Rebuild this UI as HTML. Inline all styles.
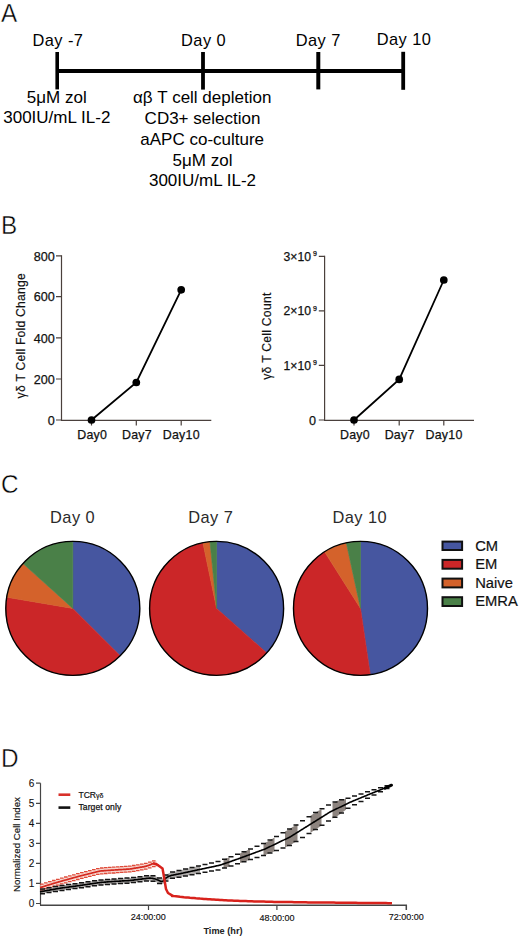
<!DOCTYPE html>
<html><head><meta charset="utf-8"><style>
html,body{margin:0;padding:0;background:#fff;width:520px;height:940px;overflow:hidden}
svg{display:block;font-family:"Liberation Sans",sans-serif}
</style></head><body>
<svg width="520" height="940" viewBox="0 0 520 940">
<rect width="520" height="940" fill="#fff"/>
<!-- Panel A -->
<g fill="#000">
<text transform="translate(0.9 21.9) scale(0.91 1)" font-size="26.7" stroke="#fff" stroke-width="0.45">A</text>
<g font-size="16.4" text-anchor="middle" letter-spacing="0.45">
<text x="57.9" y="46.2">Day -7</text>
<text x="203.6" y="46.4">Day 0</text>
<text x="318.2" y="46.3">Day 7</text>
<text x="404" y="45.4">Day 10</text>
</g>
<rect x="57" y="69" width="346" height="4"/>
<rect x="55.4" y="52" width="3.6" height="37.4"/>
<rect x="201.1" y="52" width="3.8" height="37.6"/>
<rect x="316.3" y="52" width="4" height="37.4"/>
<rect x="401.3" y="51.8" width="3.8" height="38"/>
<g font-size="17" text-anchor="middle">
<text x="56.8" y="103.3">5μM zol</text>
<text x="56.8" y="123.2">300IU/mL IL-2</text>
<text x="202.2" y="103">αβ T cell depletion</text>
<text x="202.5" y="123.9">CD3+ selection</text>
<text x="202.2" y="144.5">aAPC co-culture</text>
<text x="202.5" y="165.5">5μM zol</text>
<text x="202.5" y="186.2">300IU/mL IL-2</text>
</g>
</g>

<!-- Panel B -->
<text transform="translate(0.9 233.9) scale(0.91 1)" font-size="26.7" stroke="#fff" stroke-width="0.45">B</text>
<g stroke="#4a403c" stroke-width="1.2" fill="none">
<path d="M61.5 255.2V420.4H211.3"/>
<path d="M56 255.8H61.5M56 296.6H61.5M56 337.8H61.5M56 379H61.5M56 420H61.5"/>
<path d="M91.5 420.4V425.5M136.3 420.4V425.5M181.2 420.4V425.5"/>
<path d="M324.6 255.7V420.4H474"/>
<path d="M318.8 256.3H324.6M318.8 310.9H324.6M318.8 365.3H324.6M318.8 420H324.6"/>
<path d="M354 420.4V425.5M399.2 420.4V425.5M443.8 420.4V425.5"/>
</g>
<g font-size="12.6" text-anchor="end" fill="#111" stroke="#111" stroke-width="0.25">
<text x="54.8" y="260.5">800</text>
<text x="54.8" y="301.3">600</text>
<text x="54.8" y="342.5">400</text>
<text x="54.8" y="383.7">200</text>
<text x="54.8" y="424.7">0</text>
<text x="316" y="424.7">0</text>
</g>
<g font-size="12.2" fill="#111" stroke="#111" stroke-width="0.25">
<text x="283.6" y="260.8">3×10</text>
<text x="283.6" y="315.4">2×10</text>
<text x="283.6" y="369.8">1×10</text>
<text x="312.9" y="256.3" font-size="7">9</text>
<text x="312.9" y="310.9" font-size="7">9</text>
<text x="312.9" y="365.3" font-size="7">9</text>
</g>
<g font-size="12.4" text-anchor="middle" fill="#111" stroke="#111" stroke-width="0.25" letter-spacing="0.25">
<text x="92.2" y="438.8">Day0</text>
<text x="137" y="438.8">Day7</text>
<text x="181.3" y="438.8">Day10</text>
<text x="355" y="438.8">Day0</text>
<text x="399.6" y="438.8">Day7</text>
<text x="444" y="438.8">Day10</text>
</g>
<g font-size="12.2" text-anchor="middle" fill="#111" stroke="#111" stroke-width="0.2">
<text transform="translate(24.5 335.75) rotate(-90)" letter-spacing="0.2">γδ T Cell Fold Change</text>
<text transform="translate(271.3 336.15) rotate(-90)" letter-spacing="0.24">γδ T Cell Count</text>
</g>
<g stroke="#000" stroke-width="1.8" fill="none">
<path d="M91.5 420L136.3 382.5L181.2 289.8"/>
<path d="M354 420L399.2 379.4L443.8 280"/>
</g>
<g fill="#000">
<circle cx="91.5" cy="420" r="3.85"/><circle cx="136.3" cy="382.5" r="3.85"/><circle cx="181.2" cy="289.8" r="3.85"/>
<circle cx="354" cy="420" r="3.85"/><circle cx="399.2" cy="379.4" r="3.85"/><circle cx="443.8" cy="280" r="3.85"/>
</g>

<!-- Panel C -->
<text transform="translate(0.9 493.3) scale(0.91 1)" font-size="26.7" stroke="#fff" stroke-width="0.45">C</text>
<g font-size="16.4" text-anchor="middle" fill="#2a2a2a" letter-spacing="0.45">
<text x="72.6" y="522.6">Day 0</text>
<text x="210.8" y="522.8">Day 7</text>
<text x="359.7" y="522.8">Day 10</text>
</g>
<g id="pies" stroke="none"><path d="M72.80 608.40L72.80 541.40A67 67 0 0 1 120.18 655.78Z" fill="#4656a0" stroke="#4656a0" stroke-width="0.6" stroke-linejoin="round"/><path d="M72.80 608.40L120.18 655.78A67 67 0 0 1 6.74 597.23Z" fill="#cb2628" stroke="#cb2628" stroke-width="0.6" stroke-linejoin="round"/><path d="M72.80 608.40L6.74 597.23A67 67 0 0 1 23.01 563.57Z" fill="#d4622b" stroke="#d4622b" stroke-width="0.6" stroke-linejoin="round"/><path d="M72.80 608.40L23.01 563.57A67 67 0 0 1 72.80 541.40Z" fill="#4a8048" stroke="#4a8048" stroke-width="0.6" stroke-linejoin="round"/><path d="M216.60 608.40L216.60 541.40A67 67 0 0 1 266.70 652.88Z" fill="#4656a0" stroke="#4656a0" stroke-width="0.6" stroke-linejoin="round"/><path d="M216.60 608.40L266.70 652.88A67 67 0 1 1 202.90 542.82Z" fill="#cb2628" stroke="#cb2628" stroke-width="0.6" stroke-linejoin="round"/><path d="M216.60 608.40L202.90 542.82A67 67 0 0 1 209.95 541.73Z" fill="#d4622b" stroke="#d4622b" stroke-width="0.6" stroke-linejoin="round"/><path d="M216.60 608.40L209.95 541.73A67 67 0 0 1 216.60 541.40Z" fill="#4a8048" stroke="#4a8048" stroke-width="0.6" stroke-linejoin="round"/><path d="M360.50 608.40L360.50 541.40A67 67 0 0 1 370.29 674.68Z" fill="#4656a0" stroke="#4656a0" stroke-width="0.6" stroke-linejoin="round"/><path d="M360.50 608.40L370.29 674.68A67 67 0 0 1 324.60 551.83Z" fill="#cb2628" stroke="#cb2628" stroke-width="0.6" stroke-linejoin="round"/><path d="M360.50 608.40L324.60 551.83A67 67 0 0 1 346.34 542.91Z" fill="#d4622b" stroke="#d4622b" stroke-width="0.6" stroke-linejoin="round"/><path d="M360.50 608.40L346.34 542.91A67 67 0 0 1 360.50 541.40Z" fill="#4a8048" stroke="#4a8048" stroke-width="0.6" stroke-linejoin="round"/></g>
<g fill="none" stroke="#000" stroke-width="1.4">
<circle cx="72.8" cy="608.4" r="67"/>
<circle cx="216.6" cy="608.4" r="67"/>
<circle cx="360.5" cy="608.4" r="67"/>
</g>
<!-- legend -->
<g stroke="#111" stroke-width="2">
<rect x="442.5" y="541.6" width="19.6" height="8.4" fill="#4656a0"/>
<rect x="442.5" y="559.9" width="19.6" height="8.8" fill="#cb2628"/>
<rect x="442.5" y="578.6" width="19.6" height="8.8" fill="#d4622b"/>
<rect x="442.5" y="597.2" width="19.6" height="8.8" fill="#4a8048"/>
</g>
<g font-size="15.2" fill="#111" stroke="#111" stroke-width="0.2" transform="translate(475.2 0) scale(0.97 1)">
<text x="0" y="551">CM</text>
<text x="0" y="569.3">EM</text>
<text x="0" y="587.9">Naive</text>
<text x="0" y="606.4">EMRA</text>
</g>

<!-- Panel D -->
<text transform="translate(1 766.8) scale(0.91 1)" font-size="26.7" stroke="#fff" stroke-width="0.45">D</text>
<g stroke="#454545" stroke-width="1.2" fill="none">
<path d="M40.5 783.2V905.3"/>
<path d="M40 905.3H406.3V910" stroke-width="1.5"/>
<path d="M36 783.2H40.5M36 803.3H40.5M36 823.3H40.5M36 843.4H40.5M36 863.4H40.5M36 883.4H40.5M36 903.5H40.5"/>
<path d="M148.5 905.3V910M276.9 905.3V910"/>
</g>
<g font-size="10" text-anchor="end" fill="#111" stroke="#111" stroke-width="0.12">
<text x="34.3" y="786.7">6</text>
<text x="34.3" y="806.8">5</text>
<text x="34.3" y="826.8">4</text>
<text x="34.3" y="846.9">3</text>
<text x="34.3" y="866.9">2</text>
<text x="34.3" y="886.9">1</text>
<text x="34.3" y="907">0</text>
</g>
<g font-size="9" text-anchor="middle" fill="#111" stroke="#111" stroke-width="0.15">
<text x="148.3" y="920.4">24:00:00</text>
<text x="276.9" y="920.5">48:00:00</text>
<text x="406.3" y="920.4">72:00:00</text>
</g>
<text x="223" y="933.8" font-size="9.2" font-weight="bold" text-anchor="middle" fill="#222">Time (hr)</text>
<text transform="translate(20.2 844.5) rotate(-90)" font-size="9.7" text-anchor="middle" fill="#111" stroke="#111" stroke-width="0.15">Normalized Cell Index</text>
<path d="M58.5 794.7H70.3" stroke="#d8312a" stroke-width="2.6"/>
<path d="M58.5 807.6H70.3" stroke="#111" stroke-width="2.6"/>
<text x="78.4" y="797.6" font-size="8.6" fill="#111" stroke="#111" stroke-width="0.2">TCR<tspan font-size="7">γδ</tspan></text>
<text x="78.4" y="810.3" font-size="8.6" fill="#111" stroke="#111" stroke-width="0.25" letter-spacing="0.08">Target only</text>
<g id="dcurves"><path d="M40.0 884.9 L40.5 884.8 L41.0 884.7 L41.5 884.6 L42.0 884.5 L42.5 884.3 L43.0 884.1 L43.5 884.0 L44.0 883.8 L44.5 883.7 L45.0 883.5 L45.5 883.3 L46.0 883.2 L46.5 883.0 L47.0 882.9 L47.5 882.7 L48.0 882.5 L48.5 882.4 L49.0 882.2 L49.5 882.1 L50.0 881.9 L50.5 881.8 L51.0 881.6 L51.5 881.5 L52.0 881.3 L52.5 881.1 L53.0 881.0 L53.5 880.8 L54.0 880.7 L54.5 880.5 L55.0 880.4 L55.5 880.2 L56.0 880.1 L56.5 880.0 L57.0 879.8 L57.5 879.6 L58.0 879.5 L58.5 879.3 L59.0 879.2 L59.5 879.1 L60.0 878.9 L60.5 878.8 L61.0 878.6 L61.5 878.5 L62.0 878.4 L62.5 878.2 L63.0 878.1 L63.5 877.9 L64.0 877.8 L64.5 877.7 L65.0 877.5 L65.5 877.4 L66.0 877.2 L66.5 877.1 L67.0 877.0 L67.5 876.8 L68.0 876.7 L68.5 876.6 L69.0 876.4 L69.5 876.3 L70.0 876.1 L70.5 876.0 L71.0 875.9 L71.5 875.7 L72.0 875.6 L72.5 875.5 L73.0 875.3 L73.5 875.2 L74.0 875.0 L74.5 874.9 L75.0 874.8 L75.5 874.6 L76.0 874.5 L76.5 874.4 L77.0 874.2 L77.5 874.1 L78.0 873.9 L78.5 873.8 L79.0 873.7 L79.5 873.5 L80.0 873.4 L80.5 873.3 L81.0 873.2 L81.5 873.0 L82.0 872.9 L82.5 872.8 L83.0 872.6 L83.5 872.5 L84.0 872.4 L84.5 872.3 L85.0 872.1 L85.5 872.0 L86.0 871.9 L86.5 871.8 L87.0 871.6 L87.5 871.5 L88.0 871.4 L88.5 871.3 L89.0 871.1 L89.5 871.0 L90.0 870.9 L90.5 870.8 L91.0 870.6 L91.5 870.5 L92.0 870.4 L92.5 870.3 L93.0 870.1 L93.5 870.0 L94.0 869.9 L94.5 869.8 L95.0 869.6 L95.5 869.5 L96.0 869.4 L96.5 869.3 L97.0 869.1 L97.5 869.0 L98.0 868.9 L98.5 868.8 L99.0 868.7 L99.5 868.6 L100.0 868.5 L100.5 868.4 L101.0 868.3 L101.5 868.3 L102.0 868.3 L102.5 868.2 L103.0 868.2 L103.5 868.2 L104.0 868.1 L104.5 868.1 L105.0 868.0 L105.5 868.0 L106.0 868.0 L106.5 867.9 L107.0 867.9 L107.5 867.9 L108.0 867.8 L108.5 867.8 L109.0 867.8 L109.5 867.7 L110.0 867.7 L110.5 867.7 L111.0 867.6 L111.5 867.6 L112.0 867.6 L112.5 867.5 L113.0 867.5 L113.5 867.5 L114.0 867.4 L114.5 867.4 L115.0 867.4 L115.5 867.3 L116.0 867.3 L116.5 867.3 L117.0 867.2 L117.5 867.2 L118.0 867.2 L118.5 867.1 L119.0 867.1 L119.5 867.1 L120.0 867.0 L120.5 867.0 L121.0 867.0 L121.5 867.0 L122.0 866.9 L122.5 866.9 L123.0 866.9 L123.5 866.8 L124.0 866.8 L124.5 866.8 L125.0 866.7 L125.5 866.7 L126.0 866.7 L126.5 866.6 L127.0 866.6 L127.5 866.6 L128.0 866.5 L128.5 866.5 L129.0 866.5 L129.5 866.4 L130.0 866.4 L130.5 866.3 L131.0 866.2 L131.5 866.1 L132.0 866.1 L132.5 866.0 L133.0 865.9 L133.5 865.8 L134.0 865.7 L134.5 865.6 L135.0 865.6 L135.5 865.5 L136.0 865.4 L136.5 865.3 L137.0 865.2 L137.5 865.1 L138.0 865.1 L138.5 865.0 L139.0 864.9 L139.5 864.8 L140.0 864.7 L140.5 864.6 L141.0 864.6 L141.5 864.5 L142.0 864.4 L142.5 864.3 L143.0 864.2 L143.5 864.1 L144.0 864.1 L144.5 864.0 L145.0 863.8 L145.5 863.7 L146.0 863.6 L146.5 863.5 L147.0 863.3 L147.5 863.1 L148.0 863.0 L148.5 862.8 L149.0 862.7 L149.5 862.5 L150.0 862.3 L150.5 862.1 L151.0 861.8 L151.5 861.5 L152.0 861.3 L152.5 861.2 L153.0 861.1 L153.5 861.0 L154.0 861.1 L154.5 861.1 L155.0 861.3 L155.5 861.5 L156.0 861.5 L156.5 861.6 L157.0 861.7 L157.0 866.9 L156.5 866.8 L156.0 866.7 L155.5 866.7 L155.0 866.5 L154.5 866.4 L154.0 866.3 L153.5 866.2 L153.0 866.3 L152.5 866.4 L152.0 866.5 L151.5 866.8 L151.0 867.0 L150.5 867.3 L150.0 867.5 L149.5 867.7 L149.0 867.9 L148.5 868.0 L148.0 868.2 L147.5 868.4 L147.0 868.5 L146.5 868.7 L146.0 868.8 L145.5 868.9 L145.0 869.0 L144.5 869.2 L144.0 869.3 L143.5 869.4 L143.0 869.4 L142.5 869.5 L142.0 869.6 L141.5 869.7 L141.0 869.8 L140.5 869.9 L140.0 869.9 L139.5 870.0 L139.0 870.1 L138.5 870.2 L138.0 870.3 L137.5 870.4 L137.0 870.4 L136.5 870.5 L136.0 870.6 L135.5 870.7 L135.0 870.8 L134.5 870.9 L134.0 870.9 L133.5 871.0 L133.0 871.1 L132.5 871.2 L132.0 871.3 L131.5 871.4 L131.0 871.4 L130.5 871.5 L130.0 871.6 L129.5 871.6 L129.0 871.7 L128.5 871.7 L128.0 871.7 L127.5 871.8 L127.0 871.8 L126.5 871.8 L126.0 871.9 L125.5 871.9 L125.0 871.9 L124.5 872.0 L124.0 872.0 L123.5 872.0 L123.0 872.1 L122.5 872.1 L122.0 872.1 L121.5 872.2 L121.0 872.2 L120.5 872.2 L120.0 872.2 L119.5 872.3 L119.0 872.3 L118.5 872.3 L118.0 872.4 L117.5 872.4 L117.0 872.4 L116.5 872.5 L116.0 872.5 L115.5 872.5 L115.0 872.6 L114.5 872.6 L114.0 872.6 L113.5 872.7 L113.0 872.7 L112.5 872.7 L112.0 872.8 L111.5 872.8 L111.0 872.8 L110.5 872.9 L110.0 872.9 L109.5 872.9 L109.0 873.0 L108.5 873.0 L108.0 873.0 L107.5 873.1 L107.0 873.1 L106.5 873.1 L106.0 873.2 L105.5 873.2 L105.0 873.2 L104.5 873.3 L104.0 873.3 L103.5 873.4 L103.0 873.4 L102.5 873.4 L102.0 873.5 L101.5 873.5 L101.0 873.5 L100.5 873.6 L100.0 873.7 L99.5 873.8 L99.0 873.9 L98.5 874.0 L98.0 874.1 L97.5 874.2 L97.0 874.4 L96.5 874.5 L96.0 874.6 L95.5 874.7 L95.0 874.9 L94.5 875.0 L94.0 875.1 L93.5 875.2 L93.0 875.4 L92.5 875.5 L92.0 875.6 L91.5 875.7 L91.0 875.9 L90.5 876.0 L90.0 876.1 L89.5 876.2 L89.0 876.4 L88.5 876.5 L88.0 876.6 L87.5 876.7 L87.0 876.9 L86.5 877.0 L86.0 877.1 L85.5 877.2 L85.0 877.4 L84.5 877.5 L84.0 877.6 L83.5 877.7 L83.0 877.9 L82.5 878.0 L82.0 878.1 L81.5 878.2 L81.0 878.4 L80.5 878.5 L80.0 878.6 L79.5 878.7 L79.0 878.9 L78.5 879.0 L78.0 879.1 L77.5 879.3 L77.0 879.4 L76.5 879.6 L76.0 879.7 L75.5 879.8 L75.0 880.0 L74.5 880.1 L74.0 880.2 L73.5 880.4 L73.0 880.5 L72.5 880.7 L72.0 880.8 L71.5 880.9 L71.0 881.1 L70.5 881.2 L70.0 881.4 L69.5 881.5 L69.0 881.6 L68.5 881.8 L68.0 881.9 L67.5 882.0 L67.0 882.2 L66.5 882.3 L66.0 882.5 L65.5 882.6 L65.0 882.7 L64.5 882.9 L64.0 883.0 L63.5 883.1 L63.0 883.3 L62.5 883.4 L62.0 883.6 L61.5 883.7 L61.0 883.8 L60.5 884.0 L60.0 884.1 L59.5 884.3 L59.0 884.4 L58.5 884.5 L58.0 884.7 L57.5 884.9 L57.0 885.0 L56.5 885.2 L56.0 885.3 L55.5 885.5 L55.0 885.6 L54.5 885.8 L54.0 885.9 L53.5 886.0 L53.0 886.2 L52.5 886.4 L52.0 886.5 L51.5 886.7 L51.0 886.8 L50.5 887.0 L50.0 887.1 L49.5 887.3 L49.0 887.4 L48.5 887.6 L48.0 887.7 L47.5 887.9 L47.0 888.1 L46.5 888.2 L46.0 888.4 L45.5 888.5 L45.0 888.7 L44.5 888.9 L44.0 889.0 L43.5 889.2 L43.0 889.3 L42.5 889.5 L42.0 889.7 L41.5 889.8 L41.0 889.9 L40.5 890.0 L40.0 890.1Z" fill="#f3c4ba" opacity="0.7"/><path d="M40.0 884.2h3.6M40.0 890.0h3.6M44.0 882.9h3.6M44.0 888.7h3.6M48.0 881.7h3.6M48.0 887.5h3.6M52.0 880.5h3.6M52.0 886.3h3.6M56.0 879.3h3.6M56.0 885.1h3.6M60.0 878.1h3.6M60.0 883.9h3.6M64.0 877.0h3.6M64.0 882.8h3.6M68.0 875.9h3.6M68.0 881.7h3.6M72.0 874.8h3.6M72.0 880.6h3.6M76.0 873.7h3.6M76.0 879.5h3.6M80.0 872.6h3.6M80.0 878.4h3.6M84.0 871.6h3.6M84.0 877.4h3.6M88.0 870.6h3.6M88.0 876.4h3.6M92.0 869.6h3.6M92.0 875.4h3.6M96.0 868.6h3.6M96.0 874.4h3.6M100.0 868.0h3.6M100.0 873.8h3.6M104.0 867.7h3.6M104.0 873.5h3.6M108.0 867.4h3.6M108.0 873.2h3.6M112.0 867.2h3.6M112.0 873.0h3.6M116.0 866.9h3.6M116.0 872.7h3.6M120.0 866.6h3.6M120.0 872.4h3.6M124.0 866.4h3.6M124.0 872.2h3.6M128.0 866.1h3.6M128.0 871.9h3.6M132.0 865.5h3.6M132.0 871.3h3.6M136.0 864.8h3.6M136.0 870.6h3.6M140.0 864.1h3.6M140.0 869.9h3.6M144.0 863.3h3.6M144.0 869.1h3.6M148.0 862.1h3.6M148.0 867.9h3.6M152.0 860.8h3.6M152.0 866.6h3.6" stroke="#e04a38" stroke-width="1.3" fill="none"/><path d="M40.0 889.3 L40.5 889.2 L41.0 889.2 L41.5 889.1 L42.0 889.0 L42.5 888.9 L43.0 888.9 L43.5 888.8 L44.0 888.7 L44.5 888.6 L45.0 888.5 L45.5 888.4 L46.0 888.3 L46.5 888.2 L47.0 888.1 L47.5 888.0 L48.0 887.9 L48.5 887.9 L49.0 887.8 L49.5 887.7 L50.0 887.6 L50.5 887.5 L51.0 887.4 L51.5 887.3 L52.0 887.2 L52.5 887.1 L53.0 887.0 L53.5 886.9 L54.0 886.9 L54.5 886.8 L55.0 886.7 L55.5 886.6 L56.0 886.5 L56.5 886.4 L57.0 886.3 L57.5 886.2 L58.0 886.1 L58.5 886.0 L59.0 885.9 L59.5 885.9 L60.0 885.8 L60.5 885.7 L61.0 885.6 L61.5 885.6 L62.0 885.5 L62.5 885.4 L63.0 885.4 L63.5 885.3 L64.0 885.2 L64.5 885.1 L65.0 885.1 L65.5 885.0 L66.0 884.9 L66.5 884.9 L67.0 884.8 L67.5 884.7 L68.0 884.7 L68.5 884.6 L69.0 884.5 L69.5 884.5 L70.0 884.4 L70.5 884.3 L71.0 884.3 L71.5 884.2 L72.0 884.1 L72.5 884.1 L73.0 884.0 L73.5 883.9 L74.0 883.8 L74.5 883.8 L75.0 883.7 L75.5 883.6 L76.0 883.6 L76.5 883.5 L77.0 883.4 L77.5 883.4 L78.0 883.3 L78.5 883.2 L79.0 883.2 L79.5 883.1 L80.0 883.0 L80.5 882.9 L81.0 882.9 L81.5 882.8 L82.0 882.7 L82.5 882.6 L83.0 882.6 L83.5 882.5 L84.0 882.4 L84.5 882.3 L85.0 882.3 L85.5 882.2 L86.0 882.1 L86.5 882.0 L87.0 882.0 L87.5 881.9 L88.0 881.8 L88.5 881.7 L89.0 881.7 L89.5 881.6 L90.0 881.5 L90.5 881.4 L91.0 881.4 L91.5 881.3 L92.0 881.2 L92.5 881.1 L93.0 881.1 L93.5 881.0 L94.0 880.9 L94.5 880.8 L95.0 880.8 L95.5 880.7 L96.0 880.6 L96.5 880.5 L97.0 880.4 L97.5 880.4 L98.0 880.3 L98.5 880.2 L99.0 880.1 L99.5 880.1 L100.0 880.0 L100.5 880.0 L101.0 879.9 L101.5 879.9 L102.0 879.8 L102.5 879.8 L103.0 879.7 L103.5 879.7 L104.0 879.7 L104.5 879.6 L105.0 879.6 L105.5 879.5 L106.0 879.5 L106.5 879.5 L107.0 879.4 L107.5 879.4 L108.0 879.3 L108.5 879.3 L109.0 879.3 L109.5 879.2 L110.0 879.2 L110.5 879.1 L111.0 879.1 L111.5 879.1 L112.0 879.0 L112.5 879.0 L113.0 879.0 L113.5 879.0 L114.0 878.9 L114.5 878.9 L115.0 878.9 L115.5 878.8 L116.0 878.8 L116.5 878.8 L117.0 878.7 L117.5 878.7 L118.0 878.7 L118.5 878.6 L119.0 878.6 L119.5 878.6 L120.0 878.6 L120.5 878.5 L121.0 878.5 L121.5 878.5 L122.0 878.4 L122.5 878.4 L123.0 878.4 L123.5 878.3 L124.0 878.3 L124.5 878.3 L125.0 878.2 L125.5 878.2 L126.0 878.2 L126.5 878.2 L127.0 878.1 L127.5 878.1 L128.0 878.1 L128.5 878.0 L129.0 878.0 L129.5 878.0 L130.0 877.9 L130.5 877.9 L131.0 877.8 L131.5 877.7 L132.0 877.7 L132.5 877.6 L133.0 877.6 L133.5 877.5 L134.0 877.4 L134.5 877.4 L135.0 877.3 L135.5 877.2 L136.0 877.2 L136.5 877.1 L137.0 877.0 L137.5 877.0 L138.0 876.9 L138.5 876.9 L139.0 876.8 L139.5 876.7 L140.0 876.7 L140.5 876.6 L141.0 876.5 L141.5 876.5 L142.0 876.4 L142.5 876.4 L143.0 876.3 L143.5 876.2 L144.0 876.2 L144.5 876.1 L145.0 876.0 L145.5 876.0 L146.0 875.9 L146.5 875.8 L147.0 875.8 L147.5 875.7 L148.0 875.7 L148.5 875.6 L149.0 875.5 L149.5 875.5 L150.0 875.5 L150.5 875.5 L151.0 875.6 L151.5 875.6 L152.0 875.7 L152.5 875.7 L153.0 875.8 L153.5 875.9 L154.0 876.0 L154.5 876.1 L155.0 876.2 L155.5 876.3 L156.0 876.5 L156.5 876.7 L157.0 876.9 L157.5 877.1 L158.0 877.3 L158.5 877.5 L159.0 877.7 L159.5 877.9 L160.0 878.1 L160.5 878.3 L161.0 878.5 L161.5 878.6 L162.0 878.5 L162.5 878.3 L163.0 878.0 L163.5 877.5 L164.0 877.0 L164.5 876.4 L165.0 875.9 L165.5 875.4 L166.0 875.0 L166.5 874.7 L167.0 874.4 L167.5 874.1 L168.0 873.8 L168.5 873.5 L169.0 873.2 L169.5 873.0 L170.0 872.8 L170.5 872.6 L171.0 872.4 L171.5 872.3 L172.0 872.2 L172.5 872.1 L173.0 871.9 L173.5 871.8 L174.0 871.7 L174.5 871.6 L175.0 871.5 L175.5 871.4 L176.0 871.3 L176.5 871.2 L177.0 871.1 L177.5 870.9 L178.0 870.8 L178.5 870.7 L179.0 870.6 L179.5 870.5 L180.0 870.4 L180.5 870.3 L181.0 870.1 L181.5 870.0 L182.0 869.9 L182.5 869.8 L183.0 869.7 L183.5 869.5 L184.0 869.4 L184.5 869.3 L185.0 869.2 L185.5 869.1 L186.0 868.9 L186.5 868.8 L187.0 868.7 L187.5 868.6 L188.0 868.5 L188.5 868.3 L189.0 868.2 L189.5 868.1 L190.0 868.0 L190.5 867.9 L191.0 867.8 L191.5 867.6 L192.0 867.5 L192.5 867.4 L193.0 867.3 L193.5 867.2 L194.0 867.0 L194.5 866.9 L195.0 866.8 L195.5 866.7 L196.0 866.6 L196.5 866.4 L197.0 866.3 L197.5 866.2 L198.0 866.1 L198.5 866.0 L199.0 865.8 L199.5 865.7 L200.0 865.6 L200.0 873.2 L199.5 873.3 L199.0 873.4 L198.5 873.5 L198.0 873.6 L197.5 873.7 L197.0 873.8 L196.5 873.9 L196.0 874.0 L195.5 874.1 L195.0 874.2 L194.5 874.3 L194.0 874.3 L193.5 874.4 L193.0 874.5 L192.5 874.6 L192.0 874.7 L191.5 874.8 L191.0 874.9 L190.5 875.0 L190.0 875.1 L189.5 875.2 L189.0 875.3 L188.5 875.4 L188.0 875.5 L187.5 875.6 L187.0 875.7 L186.5 875.8 L186.0 875.9 L185.5 876.0 L185.0 876.1 L184.5 876.2 L184.0 876.3 L183.5 876.4 L183.0 876.4 L182.5 876.5 L182.0 876.6 L181.5 876.7 L181.0 876.8 L180.5 876.9 L180.0 877.0 L179.5 877.1 L179.0 877.2 L178.5 877.3 L178.0 877.4 L177.5 877.5 L177.0 877.5 L176.5 877.6 L176.0 877.7 L175.5 877.8 L175.0 877.9 L174.5 878.0 L174.0 878.1 L173.5 878.2 L173.0 878.3 L172.5 878.3 L172.0 878.4 L171.5 878.5 L171.0 878.6 L170.5 878.8 L170.0 878.9 L169.5 879.1 L169.0 879.3 L168.5 879.6 L168.0 879.9 L167.5 880.1 L167.0 880.4 L166.5 880.7 L166.0 881.0 L165.5 881.4 L165.0 881.8 L164.5 882.3 L164.0 882.9 L163.5 883.4 L163.0 883.8 L162.5 884.1 L162.0 884.3 L161.5 884.3 L161.0 884.3 L160.5 884.0 L160.0 883.8 L159.5 883.6 L159.0 883.4 L158.5 883.1 L158.0 882.9 L157.5 882.7 L157.0 882.4 L156.5 882.2 L156.0 882.0 L155.5 881.8 L155.0 881.6 L154.5 881.5 L154.0 881.4 L153.5 881.2 L153.0 881.2 L152.5 881.1 L152.0 881.0 L151.5 880.9 L151.0 880.8 L150.5 880.8 L150.0 880.7 L149.5 880.7 L149.0 880.7 L148.5 880.8 L148.0 880.8 L147.5 880.9 L147.0 881.0 L146.5 881.0 L146.0 881.1 L145.5 881.2 L145.0 881.2 L144.5 881.3 L144.0 881.3 L143.5 881.4 L143.0 881.5 L142.5 881.5 L142.0 881.6 L141.5 881.6 L141.0 881.7 L140.5 881.8 L140.0 881.8 L139.5 881.9 L139.0 882.0 L138.5 882.0 L138.0 882.1 L137.5 882.1 L137.0 882.2 L136.5 882.3 L136.0 882.3 L135.5 882.4 L135.0 882.4 L134.5 882.5 L134.0 882.6 L133.5 882.6 L133.0 882.7 L132.5 882.8 L132.0 882.8 L131.5 882.9 L131.0 882.9 L130.5 883.0 L130.0 883.0 L129.5 883.1 L129.0 883.1 L128.5 883.2 L128.0 883.2 L127.5 883.2 L127.0 883.2 L126.5 883.3 L126.0 883.3 L125.5 883.3 L125.0 883.4 L124.5 883.4 L124.0 883.4 L123.5 883.4 L123.0 883.5 L122.5 883.5 L122.0 883.5 L121.5 883.6 L121.0 883.6 L120.5 883.6 L120.0 883.6 L119.5 883.7 L119.0 883.7 L118.5 883.7 L118.0 883.8 L117.5 883.8 L117.0 883.8 L116.5 883.8 L116.0 883.9 L115.5 883.9 L115.0 883.9 L114.5 884.0 L114.0 884.0 L113.5 884.0 L113.0 884.1 L112.5 884.1 L112.0 884.1 L111.5 884.1 L111.0 884.2 L110.5 884.2 L110.0 884.2 L109.5 884.3 L109.0 884.3 L108.5 884.3 L108.0 884.4 L107.5 884.4 L107.0 884.5 L106.5 884.5 L106.0 884.5 L105.5 884.6 L105.0 884.6 L104.5 884.7 L104.0 884.7 L103.5 884.7 L103.0 884.8 L102.5 884.8 L102.0 884.9 L101.5 884.9 L101.0 884.9 L100.5 885.0 L100.0 885.0 L99.5 885.1 L99.0 885.2 L98.5 885.2 L98.0 885.3 L97.5 885.4 L97.0 885.5 L96.5 885.5 L96.0 885.6 L95.5 885.7 L95.0 885.8 L94.5 885.8 L94.0 885.9 L93.5 886.0 L93.0 886.0 L92.5 886.1 L92.0 886.2 L91.5 886.3 L91.0 886.3 L90.5 886.4 L90.0 886.5 L89.5 886.6 L89.0 886.6 L88.5 886.7 L88.0 886.8 L87.5 886.9 L87.0 886.9 L86.5 887.0 L86.0 887.1 L85.5 887.2 L85.0 887.2 L84.5 887.3 L84.0 887.4 L83.5 887.5 L83.0 887.5 L82.5 887.6 L82.0 887.7 L81.5 887.8 L81.0 887.8 L80.5 887.9 L80.0 888.0 L79.5 888.0 L79.0 888.1 L78.5 888.2 L78.0 888.2 L77.5 888.3 L77.0 888.4 L76.5 888.4 L76.0 888.5 L75.5 888.6 L75.0 888.6 L74.5 888.7 L74.0 888.8 L73.5 888.8 L73.0 888.9 L72.5 889.0 L72.0 889.0 L71.5 889.1 L71.0 889.2 L70.5 889.2 L70.0 889.3 L69.5 889.4 L69.0 889.4 L68.5 889.5 L68.0 889.6 L67.5 889.6 L67.0 889.7 L66.5 889.8 L66.0 889.8 L65.5 889.9 L65.0 890.0 L64.5 890.0 L64.0 890.1 L63.5 890.2 L63.0 890.2 L62.5 890.3 L62.0 890.4 L61.5 890.4 L61.0 890.5 L60.5 890.6 L60.0 890.7 L59.5 890.7 L59.0 890.8 L58.5 890.9 L58.0 891.0 L57.5 891.1 L57.0 891.2 L56.5 891.3 L56.0 891.3 L55.5 891.4 L55.0 891.5 L54.5 891.6 L54.0 891.7 L53.5 891.8 L53.0 891.9 L52.5 892.0 L52.0 892.1 L51.5 892.2 L51.0 892.2 L50.5 892.3 L50.0 892.4 L49.5 892.5 L49.0 892.6 L48.5 892.7 L48.0 892.8 L47.5 892.9 L47.0 893.0 L46.5 893.0 L46.0 893.1 L45.5 893.2 L45.0 893.3 L44.5 893.4 L44.0 893.5 L43.5 893.6 L43.0 893.7 L42.5 893.8 L42.0 893.8 L41.5 893.9 L41.0 894.0 L40.5 894.0 L40.0 894.1Z" fill="#6a6462" opacity="0.55"/><path d="M223.5 859.6 L224.0 859.4 L224.5 859.2 L225.0 859.0 L225.5 858.8 L226.0 858.6 L226.5 858.5 L227.0 858.3 L227.5 858.1 L228.0 857.9 L228.5 857.7 L229.0 857.5 L229.5 857.3 L229.5 866.4 L229.0 866.6 L228.5 866.7 L228.0 866.9 L227.5 867.1 L227.0 867.2 L226.5 867.4 L226.0 867.6 L225.5 867.7 L225.0 867.9 L224.5 868.0 L224.0 868.2 L223.5 868.4Z" fill="#8d847f"/><path d="M240.0 853.4 L240.5 853.2 L241.0 853.0 L241.5 852.8 L242.0 852.6 L242.5 852.4 L243.0 852.2 L243.5 851.9 L244.0 851.7 L244.5 851.5 L245.0 851.3 L245.5 851.1 L246.0 850.9 L246.5 850.7 L247.0 850.5 L247.5 850.3 L248.0 850.1 L248.5 849.9 L249.0 849.7 L249.5 849.4 L250.0 849.2 L250.0 859.8 L249.5 860.0 L249.0 860.1 L248.5 860.3 L248.0 860.4 L247.5 860.6 L247.0 860.8 L246.5 860.9 L246.0 861.1 L245.5 861.2 L245.0 861.4 L244.5 861.6 L244.0 861.7 L243.5 861.9 L243.0 862.0 L242.5 862.2 L242.0 862.4 L241.5 862.5 L241.0 862.7 L240.5 862.8 L240.0 863.0Z" fill="#8d847f"/><path d="M263.5 843.6 L264.0 843.4 L264.5 843.2 L265.0 843.0 L265.5 842.7 L266.0 842.4 L266.5 842.1 L267.0 841.9 L267.5 841.6 L268.0 841.3 L268.5 841.0 L269.0 840.7 L269.5 840.4 L270.0 840.1 L270.5 839.9 L271.0 839.6 L271.5 839.3 L272.0 839.0 L272.5 838.7 L273.0 838.4 L273.5 838.1 L274.0 837.9 L274.5 837.6 L274.5 851.3 L274.0 851.5 L273.5 851.7 L273.0 851.9 L272.5 852.1 L272.0 852.3 L271.5 852.5 L271.0 852.7 L270.5 852.9 L270.0 853.1 L269.5 853.3 L269.0 853.4 L268.5 853.6 L268.0 853.8 L267.5 854.0 L267.0 854.2 L266.5 854.4 L266.0 854.6 L265.5 854.8 L265.0 855.0 L264.5 855.1 L264.0 855.3 L263.5 855.5Z" fill="#8d847f"/><path d="M285.0 831.6 L285.5 831.3 L286.0 831.0 L286.5 830.7 L287.0 830.4 L287.5 830.1 L288.0 829.8 L288.5 829.6 L289.0 829.3 L289.5 829.0 L290.0 828.6 L290.5 828.4 L291.0 828.1 L291.5 827.8 L292.0 827.4 L292.5 827.1 L293.0 826.8 L293.5 826.5 L294.0 826.2 L294.5 825.9 L295.0 825.5 L295.5 825.2 L296.0 824.9 L296.5 824.6 L297.0 824.3 L297.5 824.0 L297.5 840.7 L297.0 841.0 L296.5 841.3 L296.0 841.6 L295.5 841.9 L295.0 842.2 L294.5 842.5 L294.0 842.8 L293.5 843.1 L293.0 843.4 L292.5 843.8 L292.0 844.1 L291.5 844.4 L291.0 844.7 L290.5 845.0 L290.0 845.2 L289.5 845.5 L289.0 845.7 L288.5 845.9 L288.0 846.1 L287.5 846.3 L287.0 846.5 L286.5 846.7 L286.0 846.9 L285.5 847.0 L285.0 847.2Z" fill="#8d847f"/><path d="M310.5 815.7 L311.0 815.4 L311.5 815.1 L312.0 814.8 L312.5 814.5 L313.0 814.1 L313.5 813.8 L314.0 813.5 L314.5 813.2 L315.0 812.9 L315.5 812.6 L316.0 812.3 L316.5 812.0 L317.0 811.7 L317.5 811.4 L318.0 811.1 L318.5 810.8 L319.0 810.5 L319.5 810.3 L320.0 810.0 L320.5 809.7 L321.0 809.4 L321.5 809.1 L321.5 825.5 L321.0 825.9 L320.5 826.2 L320.0 826.5 L319.5 826.9 L319.0 827.2 L318.5 827.5 L318.0 827.9 L317.5 828.2 L317.0 828.5 L316.5 828.9 L316.0 829.2 L315.5 829.5 L315.0 829.9 L314.5 830.2 L314.0 830.5 L313.5 830.8 L313.0 831.1 L312.5 831.4 L312.0 831.7 L311.5 832.0 L311.0 832.3 L310.5 832.7Z" fill="#8d847f"/><path d="M332.5 803.0 L333.0 802.8 L333.5 802.6 L334.0 802.4 L334.5 802.2 L335.0 801.9 L335.5 801.7 L336.0 801.5 L336.5 801.3 L337.0 801.1 L337.5 800.8 L338.0 800.6 L338.5 800.5 L339.0 800.4 L339.5 800.3 L340.0 800.1 L340.5 800.0 L341.0 799.9 L341.5 799.8 L342.0 799.7 L342.5 799.6 L343.0 799.4 L343.5 799.3 L344.0 799.2 L344.5 799.1 L345.0 799.0 L345.5 798.9 L346.0 798.7 L346.0 809.7 L345.5 810.1 L345.0 810.5 L344.5 810.8 L344.0 811.2 L343.5 811.6 L343.0 811.9 L342.5 812.3 L342.0 812.7 L341.5 813.0 L341.0 813.4 L340.5 813.8 L340.0 814.1 L339.5 814.5 L339.0 814.9 L338.5 815.3 L338.0 815.6 L337.5 815.9 L337.0 816.1 L336.5 816.4 L336.0 816.7 L335.5 816.9 L335.0 817.2 L334.5 817.5 L334.0 817.7 L333.5 818.0 L333.0 818.3 L332.5 818.5Z" fill="#8d847f"/><path d="M40.0 888.9h5M40.0 893.8h5M46.5 887.8h5M46.5 892.6h5M53.0 886.6h5M53.0 891.4h5M59.5 885.5h5M59.5 890.4h5M66.0 884.6h5M66.0 889.5h5M72.5 883.7h5M72.5 888.6h5M79.0 882.8h5M79.0 887.8h5M85.5 881.8h5M85.5 886.8h5M92.0 880.8h5M92.0 885.8h5M98.5 879.9h5M98.5 884.9h5M105.0 879.4h5M105.0 884.4h5M111.5 878.9h5M111.5 884.0h5M118.0 878.5h5M118.0 883.6h5M124.5 878.1h5M124.5 883.2h5M131.0 877.5h5M131.0 882.6h5M137.5 876.7h5M137.5 881.8h5M144.0 875.8h5M144.0 881.0h5M150.5 875.8h5M150.5 881.2h5M157.0 877.9h5M157.0 883.6h5M163.5 875.0h5M163.5 881.0h5M170.0 872.1h5M170.0 878.3h5M176.5 870.6h5M176.5 877.2h5M183.0 869.1h5M183.0 876.0h5M189.5 867.5h5M189.5 874.7h5M196.0 866.0h5M196.0 873.5h5M202.5 864.4h5M202.5 872.3h5M209.0 862.9h5M209.0 871.1h5M215.5 861.4h5M215.5 869.9h5M222.0 859.2h5M222.0 868.0h5M228.5 856.8h5M228.5 865.9h5M235.0 854.3h5M235.0 863.8h5M241.5 851.7h5M241.5 861.7h5M248.0 849.0h5M248.0 859.6h5M254.5 846.3h5M254.5 857.6h5M261.0 843.6h5M261.0 855.5h5M267.5 840.1h5M267.5 853.1h5M274.0 836.4h5M274.0 850.5h5M280.5 832.7h5M280.5 848.0h5M287.0 829.0h5M287.0 845.5h5M293.5 824.9h5M293.5 841.6h5M300.0 820.8h5M300.0 837.6h5M306.5 816.7h5M306.5 833.6h5M313.0 812.6h5M313.0 829.5h5M319.5 808.8h5M319.5 825.2h5M326.0 805.0h5M326.0 820.9h5M332.5 801.9h5M332.5 817.2h5M339.0 799.8h5M339.0 813.0h5M345.5 798.3h5M345.5 808.3h5M352.0 796.0h5M352.0 804.8h5M358.5 793.9h5M358.5 801.6h5M365.0 791.8h5M365.0 798.3h5M371.5 789.8h5M371.5 795.0h5M378.0 787.8h5M378.0 791.8h5M384.5 785.8h5M384.5 788.5h5" stroke="#151515" stroke-width="1.5" fill="none"/><path d="M40.0 891.7 L40.5 891.6 L41.0 891.6 L41.5 891.5 L42.0 891.4 L42.5 891.4 L43.0 891.3 L43.5 891.2 L44.0 891.1 L44.5 891.0 L45.0 890.9 L45.5 890.8 L46.0 890.7 L46.5 890.6 L47.0 890.5 L47.5 890.4 L48.0 890.4 L48.5 890.3 L49.0 890.2 L49.5 890.1 L50.0 890.0 L50.5 889.9 L51.0 889.8 L51.5 889.7 L52.0 889.6 L52.5 889.5 L53.0 889.5 L53.5 889.4 L54.0 889.3 L54.5 889.2 L55.0 889.1 L55.5 889.0 L56.0 888.9 L56.5 888.8 L57.0 888.7 L57.5 888.6 L58.0 888.6 L58.5 888.5 L59.0 888.4 L59.5 888.3 L60.0 888.2 L60.5 888.1 L61.0 888.1 L61.5 888.0 L62.0 887.9 L62.5 887.9 L63.0 887.8 L63.5 887.7 L64.0 887.7 L64.5 887.6 L65.0 887.5 L65.5 887.5 L66.0 887.4 L66.5 887.3 L67.0 887.3 L67.5 887.2 L68.0 887.1 L68.5 887.1 L69.0 887.0 L69.5 886.9 L70.0 886.9 L70.5 886.8 L71.0 886.7 L71.5 886.6 L72.0 886.6 L72.5 886.5 L73.0 886.4 L73.5 886.4 L74.0 886.3 L74.5 886.2 L75.0 886.2 L75.5 886.1 L76.0 886.0 L76.5 886.0 L77.0 885.9 L77.5 885.8 L78.0 885.8 L78.5 885.7 L79.0 885.6 L79.5 885.6 L80.0 885.5 L80.5 885.4 L81.0 885.3 L81.5 885.3 L82.0 885.2 L82.5 885.1 L83.0 885.0 L83.5 885.0 L84.0 884.9 L84.5 884.8 L85.0 884.8 L85.5 884.7 L86.0 884.6 L86.5 884.5 L87.0 884.5 L87.5 884.4 L88.0 884.3 L88.5 884.2 L89.0 884.1 L89.5 884.1 L90.0 884.0 L90.5 883.9 L91.0 883.9 L91.5 883.8 L92.0 883.7 L92.5 883.6 L93.0 883.5 L93.5 883.5 L94.0 883.4 L94.5 883.3 L95.0 883.2 L95.5 883.2 L96.0 883.1 L96.5 883.0 L97.0 883.0 L97.5 882.9 L98.0 882.8 L98.5 882.7 L99.0 882.7 L99.5 882.6 L100.0 882.5 L100.5 882.5 L101.0 882.4 L101.5 882.4 L102.0 882.3 L102.5 882.3 L103.0 882.3 L103.5 882.2 L104.0 882.2 L104.5 882.1 L105.0 882.1 L105.5 882.1 L106.0 882.0 L106.5 882.0 L107.0 881.9 L107.5 881.9 L108.0 881.9 L108.5 881.8 L109.0 881.8 L109.5 881.7 L110.0 881.7 L110.5 881.7 L111.0 881.6 L111.5 881.6 L112.0 881.6 L112.5 881.5 L113.0 881.5 L113.5 881.5 L114.0 881.5 L114.5 881.4 L115.0 881.4 L115.5 881.4 L116.0 881.3 L116.5 881.3 L117.0 881.3 L117.5 881.2 L118.0 881.2 L118.5 881.2 L119.0 881.2 L119.5 881.1 L120.0 881.1 L120.5 881.1 L121.0 881.0 L121.5 881.0 L122.0 881.0 L122.5 880.9 L123.0 880.9 L123.5 880.9 L124.0 880.9 L124.5 880.8 L125.0 880.8 L125.5 880.8 L126.0 880.7 L126.5 880.7 L127.0 880.7 L127.5 880.7 L128.0 880.6 L128.5 880.6 L129.0 880.6 L129.5 880.5 L130.0 880.5 L130.5 880.4 L131.0 880.4 L131.5 880.3 L132.0 880.2 L132.5 880.2 L133.0 880.1 L133.5 880.1 L134.0 880.0 L134.5 879.9 L135.0 879.9 L135.5 879.8 L136.0 879.8 L136.5 879.7 L137.0 879.6 L137.5 879.6 L138.0 879.5 L138.5 879.4 L139.0 879.4 L139.5 879.3 L140.0 879.2 L140.5 879.2 L141.0 879.1 L141.5 879.1 L142.0 879.0 L142.5 878.9 L143.0 878.9 L143.5 878.8 L144.0 878.8 L144.5 878.7 L145.0 878.6 L145.5 878.6 L146.0 878.5 L146.5 878.4 L147.0 878.4 L147.5 878.3 L148.0 878.2 L148.5 878.2 L149.0 878.1 L149.5 878.1 L150.0 878.1 L150.5 878.1 L151.0 878.2 L151.5 878.2 L152.0 878.3 L152.5 878.4 L153.0 878.5 L153.5 878.6 L154.0 878.7 L154.5 878.8 L155.0 878.9 L155.5 879.1 L156.0 879.3 L156.5 879.5 L157.0 879.7 L157.5 879.9 L158.0 880.1 L158.5 880.3 L159.0 880.6 L159.5 880.8 L160.0 881.0 L160.5 881.2 L161.0 881.4 L161.5 881.5 L162.0 881.4 L162.5 881.2 L163.0 880.9 L163.5 880.5 L164.0 880.0 L164.5 879.4 L165.0 878.9 L165.5 878.4 L166.0 878.0 L166.5 877.7 L167.0 877.4 L167.5 877.1 L168.0 876.8 L168.5 876.5 L169.0 876.3 L169.5 876.1 L170.0 875.9 L170.5 875.7 L171.0 875.5 L171.5 875.4 L172.0 875.3 L172.5 875.2 L173.0 875.1 L173.5 875.0 L174.0 874.9 L174.5 874.8 L175.0 874.7 L175.5 874.6 L176.0 874.5 L176.5 874.4 L177.0 874.3 L177.5 874.2 L178.0 874.1 L178.5 874.0 L179.0 873.9 L179.5 873.8 L180.0 873.7 L180.5 873.6 L181.0 873.5 L181.5 873.4 L182.0 873.3 L182.5 873.2 L183.0 873.1 L183.5 872.9 L184.0 872.8 L184.5 872.7 L185.0 872.6 L185.5 872.5 L186.0 872.4 L186.5 872.3 L187.0 872.2 L187.5 872.1 L188.0 872.0 L188.5 871.9 L189.0 871.8 L189.5 871.7 L190.0 871.6 L190.5 871.4 L191.0 871.3 L191.5 871.2 L192.0 871.1 L192.5 871.0 L193.0 870.9 L193.5 870.8 L194.0 870.7 L194.5 870.6 L195.0 870.5 L195.5 870.4 L196.0 870.3 L196.5 870.2 L197.0 870.0 L197.5 869.9 L198.0 869.8 L198.5 869.7 L199.0 869.6 L199.5 869.5 L200.0 869.4 L200.5 869.3 L201.0 869.2 L201.5 869.1 L202.0 869.0 L202.5 868.9 L203.0 868.8 L203.5 868.7 L204.0 868.6 L204.5 868.5 L205.0 868.4 L205.5 868.2 L206.0 868.1 L206.5 868.0 L207.0 867.9 L207.5 867.8 L208.0 867.7 L208.5 867.6 L209.0 867.5 L209.5 867.4 L210.0 867.3 L210.5 867.2 L211.0 867.1 L211.5 867.0 L212.0 866.9 L212.5 866.8 L213.0 866.7 L213.5 866.6 L214.0 866.5 L214.5 866.4 L215.0 866.2 L215.5 866.1 L216.0 866.0 L216.5 865.9 L217.0 865.8 L217.5 865.7 L218.0 865.6 L218.5 865.5 L219.0 865.4 L219.5 865.3 L220.0 865.1 L220.5 865.0 L221.0 864.8 L221.5 864.7 L222.0 864.5 L222.5 864.3 L223.0 864.1 L223.5 864.0 L224.0 863.8 L224.5 863.6 L225.0 863.5 L225.5 863.3 L226.0 863.1 L226.5 862.9 L227.0 862.8 L227.5 862.6 L228.0 862.4 L228.5 862.2 L229.0 862.1 L229.5 861.9 L230.0 861.7 L230.5 861.5 L231.0 861.4 L231.5 861.2 L232.0 861.0 L232.5 860.8 L233.0 860.6 L233.5 860.5 L234.0 860.3 L234.5 860.1 L235.0 860.0 L235.5 859.8 L236.0 859.6 L236.5 859.4 L237.0 859.2 L237.5 859.1 L238.0 858.9 L238.5 858.7 L239.0 858.5 L239.5 858.4 L240.0 858.2 L240.5 858.0 L241.0 857.8 L241.5 857.6 L242.0 857.5 L242.5 857.3 L243.0 857.1 L243.5 856.9 L244.0 856.7 L244.5 856.5 L245.0 856.4 L245.5 856.2 L246.0 856.0 L246.5 855.8 L247.0 855.6 L247.5 855.4 L248.0 855.3 L248.5 855.1 L249.0 854.9 L249.5 854.7 L250.0 854.5 L250.5 854.3 L251.0 854.2 L251.5 854.0 L252.0 853.8 L252.5 853.6 L253.0 853.4 L253.5 853.2 L254.0 853.0 L254.5 852.9 L255.0 852.7 L255.5 852.5 L256.0 852.3 L256.5 852.1 L257.0 851.9 L257.5 851.8 L258.0 851.6 L258.5 851.4 L259.0 851.2 L259.5 851.0 L260.0 850.8 L260.5 850.7 L261.0 850.5 L261.5 850.3 L262.0 850.1 L262.5 849.9 L263.0 849.7 L263.5 849.6 L264.0 849.4 L264.5 849.2 L265.0 849.0 L265.5 848.7 L266.0 848.5 L266.5 848.3 L267.0 848.0 L267.5 847.8 L268.0 847.6 L268.5 847.3 L269.0 847.1 L269.5 846.8 L270.0 846.6 L270.5 846.4 L271.0 846.1 L271.5 845.9 L272.0 845.6 L272.5 845.4 L273.0 845.2 L273.5 844.9 L274.0 844.7 L274.5 844.4 L275.0 844.2 L275.5 844.0 L276.0 843.7 L276.5 843.5 L277.0 843.2 L277.5 843.0 L278.0 842.8 L278.5 842.5 L279.0 842.3 L279.5 842.0 L280.0 841.8 L280.5 841.6 L281.0 841.3 L281.5 841.1 L282.0 840.8 L282.5 840.6 L283.0 840.4 L283.5 840.1 L284.0 839.9 L284.5 839.6 L285.0 839.4 L285.5 839.2 L286.0 838.9 L286.5 838.7 L287.0 838.4 L287.5 838.2 L288.0 838.0 L288.5 837.7 L289.0 837.5 L289.5 837.2 L290.0 836.9 L290.5 836.7 L291.0 836.4 L291.5 836.1 L292.0 835.8 L292.5 835.4 L293.0 835.1 L293.5 834.8 L294.0 834.5 L294.5 834.2 L295.0 833.9 L295.5 833.6 L296.0 833.2 L296.5 832.9 L297.0 832.6 L297.5 832.3 L298.0 832.0 L298.5 831.7 L299.0 831.4 L299.5 831.1 L300.0 830.8 L300.5 830.4 L301.0 830.1 L301.5 829.8 L302.0 829.5 L302.5 829.2 L303.0 828.9 L303.5 828.6 L304.0 828.2 L304.5 827.9 L305.0 827.6 L305.5 827.3 L306.0 827.0 L306.5 826.7 L307.0 826.4 L307.5 826.1 L308.0 825.8 L308.5 825.4 L309.0 825.1 L309.5 824.8 L310.0 824.5 L310.5 824.2 L311.0 823.9 L311.5 823.6 L312.0 823.2 L312.5 822.9 L313.0 822.6 L313.5 822.3 L314.0 822.0 L314.5 821.7 L315.0 821.4 L315.5 821.1 L316.0 820.8 L316.5 820.4 L317.0 820.1 L317.5 819.8 L318.0 819.5 L318.5 819.2 L319.0 818.9 L319.5 818.6 L320.0 818.2 L320.5 817.9 L321.0 817.6 L321.5 817.3 L322.0 817.0 L322.5 816.7 L323.0 816.4 L323.5 816.1 L324.0 815.8 L324.5 815.4 L325.0 815.1 L325.5 814.8 L326.0 814.5 L326.5 814.2 L327.0 813.9 L327.5 813.6 L328.0 813.2 L328.5 812.9 L329.0 812.6 L329.5 812.3 L330.0 812.1 L330.5 811.8 L331.0 811.5 L331.5 811.3 L332.0 811.0 L332.5 810.8 L333.0 810.5 L333.5 810.3 L334.0 810.1 L334.5 809.8 L335.0 809.6 L335.5 809.3 L336.0 809.1 L336.5 808.8 L337.0 808.6 L337.5 808.4 L338.0 808.1 L338.5 807.9 L339.0 807.6 L339.5 807.4 L340.0 807.1 L340.5 806.9 L341.0 806.7 L341.5 806.4 L342.0 806.2 L342.5 805.9 L343.0 805.7 L343.5 805.5 L344.0 805.2 L344.5 805.0 L345.0 804.7 L345.5 804.5 L346.0 804.2 L346.5 804.0 L347.0 803.8 L347.5 803.5 L348.0 803.3 L348.5 803.0 L349.0 802.8 L349.5 802.6 L350.0 802.3 L350.5 802.1 L351.0 801.9 L351.5 801.7 L352.0 801.5 L352.5 801.3 L353.0 801.1 L353.5 800.8 L354.0 800.6 L354.5 800.4 L355.0 800.2 L355.5 800.0 L356.0 799.8 L356.5 799.6 L357.0 799.4 L357.5 799.2 L358.0 799.0 L358.5 798.8 L359.0 798.6 L359.5 798.4 L360.0 798.1 L360.5 797.9 L361.0 797.7 L361.5 797.5 L362.0 797.3 L362.5 797.1 L363.0 796.9 L363.5 796.7 L364.0 796.5 L364.5 796.3 L365.0 796.1 L365.5 795.9 L366.0 795.7 L366.5 795.5 L367.0 795.2 L367.5 795.0 L368.0 794.8 L368.5 794.6 L369.0 794.4 L369.5 794.2 L370.0 794.0 L370.5 793.8 L371.0 793.6 L371.5 793.4 L372.0 793.2 L372.5 793.0 L373.0 792.8 L373.5 792.6 L374.0 792.4 L374.5 792.2 L375.0 792.0 L375.5 791.8 L376.0 791.6 L376.5 791.4 L377.0 791.2 L377.5 791.0 L378.0 790.8 L378.5 790.6 L379.0 790.4 L379.5 790.2 L380.0 790.0 L380.5 789.8 L381.0 789.6 L381.5 789.4 L382.0 789.2 L382.5 789.0 L383.0 788.8 L383.5 788.6 L384.0 788.4 L384.5 788.2 L385.0 788.0 L385.5 787.8 L386.0 787.6 L386.5 787.4 L387.0 787.2 L387.5 787.0 L388.0 786.8 L388.5 786.5 L389.0 786.3 L389.5 786.1 L390.0 786.0 L390.5 785.9 L391.0 785.8" stroke="#000" stroke-width="1.6" fill="none"/><path d="M385 788.2L391.5 785.2" stroke="#000" stroke-width="3" stroke-linecap="round"/><path d="M40.0 887.5 L40.5 887.4 L41.0 887.3 L41.5 887.2 L42.0 887.1 L42.5 886.9 L43.0 886.7 L43.5 886.6 L44.0 886.4 L44.5 886.3 L45.0 886.1 L45.5 885.9 L46.0 885.8 L46.5 885.6 L47.0 885.5 L47.5 885.3 L48.0 885.1 L48.5 885.0 L49.0 884.8 L49.5 884.7 L50.0 884.5 L50.5 884.4 L51.0 884.2 L51.5 884.1 L52.0 883.9 L52.5 883.8 L53.0 883.6 L53.5 883.4 L54.0 883.3 L54.5 883.1 L55.0 883.0 L55.5 882.9 L56.0 882.7 L56.5 882.6 L57.0 882.4 L57.5 882.2 L58.0 882.1 L58.5 881.9 L59.0 881.8 L59.5 881.7 L60.0 881.5 L60.5 881.4 L61.0 881.2 L61.5 881.1 L62.0 881.0 L62.5 880.8 L63.0 880.7 L63.5 880.5 L64.0 880.4 L64.5 880.3 L65.0 880.1 L65.5 880.0 L66.0 879.9 L66.5 879.7 L67.0 879.6 L67.5 879.4 L68.0 879.3 L68.5 879.2 L69.0 879.0 L69.5 878.9 L70.0 878.8 L70.5 878.6 L71.0 878.5 L71.5 878.3 L72.0 878.2 L72.5 878.1 L73.0 877.9 L73.5 877.8 L74.0 877.6 L74.5 877.5 L75.0 877.4 L75.5 877.2 L76.0 877.1 L76.5 877.0 L77.0 876.8 L77.5 876.7 L78.0 876.5 L78.5 876.4 L79.0 876.3 L79.5 876.1 L80.0 876.0 L80.5 875.9 L81.0 875.8 L81.5 875.6 L82.0 875.5 L82.5 875.4 L83.0 875.2 L83.5 875.1 L84.0 875.0 L84.5 874.9 L85.0 874.8 L85.5 874.6 L86.0 874.5 L86.5 874.4 L87.0 874.2 L87.5 874.1 L88.0 874.0 L88.5 873.9 L89.0 873.8 L89.5 873.6 L90.0 873.5 L90.5 873.4 L91.0 873.2 L91.5 873.1 L92.0 873.0 L92.5 872.9 L93.0 872.8 L93.5 872.6 L94.0 872.5 L94.5 872.4 L95.0 872.2 L95.5 872.1 L96.0 872.0 L96.5 871.9 L97.0 871.8 L97.5 871.6 L98.0 871.5 L98.5 871.4 L99.0 871.3 L99.5 871.2 L100.0 871.1 L100.5 871.0 L101.0 870.9 L101.5 870.9 L102.0 870.9 L102.5 870.8 L103.0 870.8 L103.5 870.8 L104.0 870.7 L104.5 870.7 L105.0 870.6 L105.5 870.6 L106.0 870.6 L106.5 870.5 L107.0 870.5 L107.5 870.5 L108.0 870.4 L108.5 870.4 L109.0 870.4 L109.5 870.3 L110.0 870.3 L110.5 870.3 L111.0 870.2 L111.5 870.2 L112.0 870.2 L112.5 870.1 L113.0 870.1 L113.5 870.1 L114.0 870.0 L114.5 870.0 L115.0 870.0 L115.5 869.9 L116.0 869.9 L116.5 869.9 L117.0 869.8 L117.5 869.8 L118.0 869.8 L118.5 869.7 L119.0 869.7 L119.5 869.7 L120.0 869.6 L120.5 869.6 L121.0 869.6 L121.5 869.6 L122.0 869.5 L122.5 869.5 L123.0 869.5 L123.5 869.4 L124.0 869.4 L124.5 869.4 L125.0 869.3 L125.5 869.3 L126.0 869.3 L126.5 869.2 L127.0 869.2 L127.5 869.2 L128.0 869.1 L128.5 869.1 L129.0 869.1 L129.5 869.0 L130.0 869.0 L130.5 868.9 L131.0 868.8 L131.5 868.8 L132.0 868.7 L132.5 868.6 L133.0 868.5 L133.5 868.4 L134.0 868.3 L134.5 868.2 L135.0 868.2 L135.5 868.1 L136.0 868.0 L136.5 867.9 L137.0 867.8 L137.5 867.8 L138.0 867.7 L138.5 867.6 L139.0 867.5 L139.5 867.4 L140.0 867.3 L140.5 867.2 L141.0 867.2 L141.5 867.1 L142.0 867.0 L142.5 866.9 L143.0 866.8 L143.5 866.8 L144.0 866.7 L144.5 866.6 L145.0 866.4 L145.5 866.3 L146.0 866.2 L146.5 866.1 L147.0 865.9 L147.5 865.8 L148.0 865.6 L148.5 865.4 L149.0 865.3 L149.5 865.1 L150.0 864.9 L150.5 864.7 L151.0 864.4 L151.5 864.1 L152.0 863.9 L152.5 863.8 L153.0 863.7 L153.5 863.6 L154.0 863.7 L154.5 863.8 L155.0 863.9 L155.5 864.1 L156.0 864.2 L156.5 864.4 L157.0 864.7 L157.5 865.0 L158.0 865.3 L158.5 865.6 L159.0 866.0 L159.5 866.3 L160.0 866.7" stroke="#d42a20" stroke-width="1.7" fill="none"/><path d="M153.0 863.3 L157.0 864.5 L162.5 868.5 L163.5 874.0 L164.5 880.0 L166.0 889.0 L168.0 893.0 L172.0 895.4 L172.0 895.9 L174.0 896.1 L176.0 896.2 L178.0 896.4 L180.0 896.7 L182.0 896.9 L184.0 897.2 L186.0 897.4 L188.0 897.6 L190.0 897.8 L192.0 897.9 L194.0 898.1 L196.0 898.3 L198.0 898.4 L200.0 898.6 L202.0 898.7 L204.0 898.9 L206.0 899.0 L208.0 899.2 L210.0 899.3 L212.0 899.5 L214.0 899.6 L216.0 899.7 L218.0 899.8 L220.0 900.0 L222.0 900.1 L224.0 900.2 L226.0 900.3 L228.0 900.4 L230.0 900.5 L232.0 900.6 L234.0 900.7 L236.0 900.7 L238.0 900.8 L240.0 900.9 L242.0 901.0 L244.0 901.1 L246.0 901.1 L248.0 901.2 L250.0 901.3 L252.0 901.3 L254.0 901.4 L256.0 901.4 L258.0 901.5 L260.0 901.5 L262.0 901.6 L264.0 901.6 L266.0 901.7 L268.0 901.7 L270.0 901.8 L272.0 901.8 L274.0 901.9 L276.0 901.9 L278.0 901.9 L280.0 902.0 L282.0 902.0 L284.0 902.0 L286.0 902.1 L288.0 902.1 L290.0 902.1 L292.0 902.1 L294.0 902.2 L296.0 902.2 L298.0 902.2 L300.0 902.2 L302.0 902.3 L304.0 902.3 L306.0 902.3 L308.0 902.4 L310.0 902.4 L312.0 902.4 L314.0 902.4 L316.0 902.4 L318.0 902.5 L320.0 902.5 L322.0 902.5 L324.0 902.5 L326.0 902.6 L328.0 902.6 L330.0 902.6 L332.0 902.6 L334.0 902.6 L336.0 902.7 L338.0 902.7 L340.0 902.7 L342.0 902.7 L344.0 902.7 L346.0 902.8 L348.0 902.8 L350.0 902.8 L352.0 902.8 L354.0 902.8 L356.0 902.8 L358.0 902.9 L360.0 902.9 L362.0 902.9 L364.0 902.9 L366.0 902.9 L368.0 903.0 L370.0 903.0 L372.0 903.0 L374.0 903.0 L376.0 903.0 L378.0 903.1 L380.0 903.1 L382.0 903.1 L384.0 903.1 L386.0 903.1 L388.0 903.2 L390.0 903.2 L392.0 903.2" stroke="#d8221c" stroke-width="2.5" fill="none" stroke-linejoin="round"/></g>
</svg>
</body></html>
